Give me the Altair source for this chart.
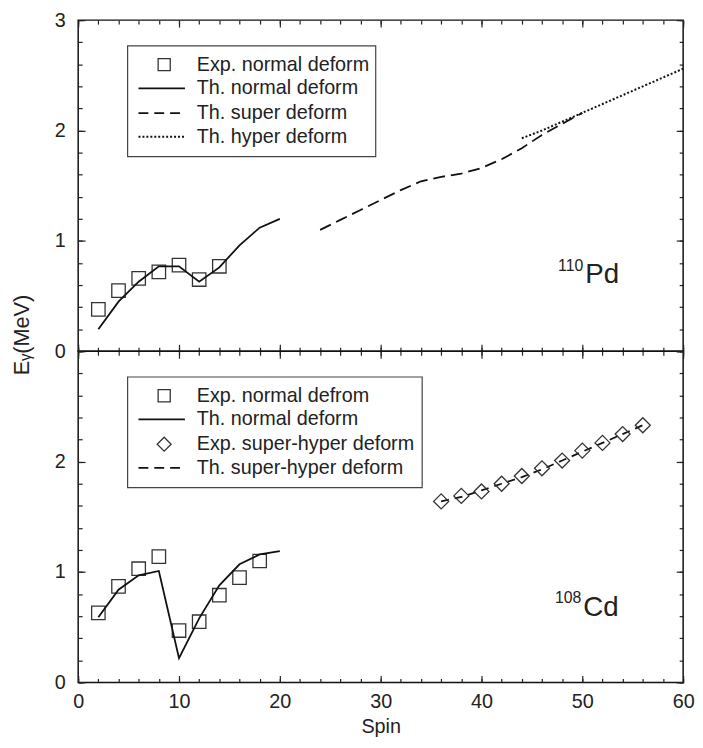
import altair as alt
import pandas as pd

# ---------------- data ----------------
# 110Pd panel
spin_pd_exp = [2, 4, 6, 8, 10, 12, 14]
e_pd_exp = [0.38, 0.55, 0.66, 0.72, 0.78, 0.65, 0.77]
spin_pd_thn = [2, 4, 6, 8, 10, 12, 14, 16, 18, 20]
e_pd_thn = [0.20, 0.45, 0.63, 0.77, 0.77, 0.63, 0.76, 0.96, 1.12, 1.20]
spin_pd_ths = [24, 26, 28, 30, 32, 34, 36, 38, 40, 42, 44, 46, 48, 50]
e_pd_ths = [1.10, 1.19, 1.28, 1.37, 1.46, 1.54, 1.58, 1.61, 1.66, 1.74, 1.84, 1.96, 2.06, 2.16]
spin_pd_thh = [44, 46, 48, 50, 52, 54, 56, 58, 60]
e_pd_thh = [1.93, 2.00, 2.08, 2.16, 2.24, 2.32, 2.40, 2.48, 2.56]

# 108Cd panel
spin_cd_exp = [2, 4, 6, 8, 10, 12, 14, 16, 18]
e_cd_exp = [0.63, 0.87, 1.03, 1.14, 0.47, 0.55, 0.79, 0.95, 1.10]
spin_cd_thn = [2, 4, 6, 8, 10, 12, 14, 16, 18, 20]
e_cd_thn = [0.59, 0.84, 0.97, 1.01, 0.22, 0.58, 0.88, 1.07, 1.16, 1.19]
spin_cd_sh = [36, 38, 40, 42, 44, 46, 48, 50, 52, 54, 56]
e_cd_exp_sh = [1.64, 1.69, 1.73, 1.80, 1.87, 1.94, 2.01, 2.10, 2.17, 2.25, 2.33]
e_cd_th_sh = [1.64, 1.68, 1.74, 1.80, 1.86, 1.93, 2.01, 2.09, 2.17, 2.25, 2.33]

legend_pd = ["Exp. normal deform", "Th. normal deform", "Th. super deform", "Th. hyper deform"]
legend_cd = ["Exp. normal defrom", "Th. normal deform", "Exp. super-hyper deform", "Th. super-hyper deform"]

x_major = [0, 10, 20, 30, 40, 50, 60]
x_minor = [0, 2, 4, 6, 8, 10, 12, 14, 16, 18, 20, 22, 24, 26, 28, 30, 32, 34, 36, 38, 40,
           42, 44, 46, 48, 50, 52, 54, 56, 58, 60]
y_major_top = [0, 1, 2, 3]
y_major_bot = [0, 1, 2]
y_minor = [0, 0.2, 0.4, 0.6, 0.8, 1.0, 1.2, 1.4, 1.6, 1.8, 2.0, 2.2, 2.4, 2.6, 2.8, 3.0]

# ---------------- style ----------------
FONT = "Liberation Sans"
INK = "#222222"
W, H = 612, 335
XS = alt.Scale(domain=[0, 60], nice=False, zero=False)
YS = alt.Scale(domain=[0, 3], nice=False, zero=False)
MAJ, MIN = 7, 4


def axis(orient, values, size, labels=False, **kw):
    return alt.Axis(orient=orient, values=values, tickSize=size, offset=-size,
                    labels=labels, labelFlush=False, domain=False, grid=False, ticks=True,
                    tickColor=INK, tickWidth=1.2, labelFont=FONT, labelFontSize=20,
                    labelColor=INK, **kw)


def axes_for(panel):
    """4 (x-axis, y-axis) pairs: minor/major on bottom-left, minor/major on top-right."""
    bottom = panel == "bottom"
    xa = [
        axis("bottom", x_minor, MIN, title=None),
        axis("bottom", x_major, MAJ, labels=bottom, labelPadding=9,
             **({"title": "Spin", "titleFont": FONT, "titleFontSize": 20,
                 "titleFontWeight": "normal", "titleColor": INK, "titlePadding": 6}
                if bottom else {"title": None})),
        axis("top", x_minor, MIN, title=None),
        axis("top", x_major, MAJ, title=None),
    ]
    ya = [
        axis("left", y_minor, MIN, title=None),
        axis("left", y_major_bot if bottom else y_major_top, MAJ, labels=True, labelPadding=13,
             **({"title": None} if bottom else
                {"title": "E\u1d67(MeV)", "titleFont": FONT, "titleFontSize": 22,
                 "titleFontWeight": "normal", "titleColor": INK, "titlePadding": 21,
                 "titleY": 318})),
        axis("right", y_minor, MIN, title=None),
        axis("right", y_major_top, MAJ, title=None),
    ]
    return list(zip(xa, ya))


def pts(spin, e, shape, size, ax):
    df = pd.DataFrame({"spin": spin, "e": e})
    return alt.Chart(df).mark_point(shape=shape, size=size, filled=False, color="#333333",
                                    strokeWidth=1.3, opacity=1).encode(
        x=alt.X("spin:Q", scale=XS, axis=ax[0]),
        y=alt.Y("e:Q", scale=YS, axis=ax[1]))


def line(spin, e, ax, dash=None, width=1.8):
    df = pd.DataFrame({"spin": spin, "e": e})
    kw = {"strokeDash": dash} if dash else {}
    return alt.Chart(df).mark_line(color="#111111", strokeWidth=width, **kw).encode(
        x=alt.X("spin:Q", scale=XS, axis=ax[0]),
        y=alt.Y("e:Q", scale=YS, axis=ax[1]))


ONE = pd.DataFrame({"k": [0]})


def txt(x, y, t, size=20, align="left", baseline="middle"):
    return alt.Chart(ONE).mark_text(align=align, baseline=baseline, font=FONT,
                                    fontSize=size, color=INK).encode(
        x=alt.value(x), y=alt.value(y), text=alt.value(t))


def frame(x1, x2, y1, y2):
    return alt.Chart(ONE).mark_rect(fillOpacity=0, stroke="#444444", strokeWidth=1.2).encode(
        x=alt.value(x1), x2=alt.value(x2), y=alt.value(y1), y2=alt.value(y2))


def lg_line(y, dash=None, width=1.8, x1=61, x2=108):
    kw = {"strokeDash": dash} if dash else {}
    return alt.Chart(ONE).mark_rule(color="#111111", strokeWidth=width, **kw).encode(
        x=alt.value(x1), x2=alt.value(x2), y=alt.value(y))


def lg_pt(y, shape, size):
    return alt.Chart(ONE).mark_point(shape=shape, size=size, filled=False, color="#333333",
                                     strokeWidth=1.3, opacity=1).encode(
        x=alt.value(87), y=alt.value(y))


ROWS = [45, 69, 94, 118]
TX = 120

# ---------------- top panel: 110Pd ----------------
ax_t = axes_for("top")
top = alt.layer(
    pts(spin_pd_exp, e_pd_exp, "square", 185, ax_t[0]),
    line(spin_pd_thn, e_pd_thn, ax_t[1]),
    line(spin_pd_ths, e_pd_ths, ax_t[2], dash=[12, 6]),
    line(spin_pd_thh, e_pd_thh, ax_t[3], dash=[2, 2], width=2),
    frame(50, 301, 26, 138),
    lg_pt(ROWS[0], "square", 150),
    lg_line(ROWS[1]),
    lg_line(ROWS[2], dash=[10, 6]),
    lg_line(ROWS[3], dash=[2, 2], width=2),
    txt(TX, ROWS[0], legend_pd[0]),
    txt(TX, ROWS[1], legend_pd[1]),
    txt(TX, ROWS[2], legend_pd[2]),
    txt(TX, ROWS[3], legend_pd[3]),
    txt(511, 254, "110", size=16, align="right", baseline="alphabetic"),
    txt(513, 266, "Pd", size=28, baseline="alphabetic"),
).resolve_axis(x="independent", y="independent").properties(width=W, height=H)

# ---------------- bottom panel: 108Cd ----------------
ax_b = axes_for("bottom")
bottom = alt.layer(
    pts(spin_cd_exp, e_cd_exp, "square", 185, ax_b[0]),
    line(spin_cd_thn, e_cd_thn, ax_b[1]),
    line(spin_cd_sh, e_cd_th_sh, ax_b[2], dash=[8, 6]),
    pts(spin_cd_sh, e_cd_exp_sh, "diamond", 230, ax_b[3]),
    frame(50, 348, 26, 138),
    lg_pt(ROWS[0], "square", 150),
    lg_line(ROWS[1]),
    lg_pt(ROWS[2], "diamond", 200),
    lg_line(ROWS[3], dash=[10, 6], x2=103),
    txt(TX, ROWS[0], legend_cd[0]),
    txt(TX, ROWS[1], legend_cd[1]),
    txt(TX, ROWS[2], legend_cd[2]),
    txt(TX, ROWS[3], legend_cd[3]),
    txt(509, 255, "108", size=16, align="right", baseline="alphabetic"),
    txt(511, 268, "Cd", size=28, baseline="alphabetic"),
).resolve_axis(x="independent", y="independent").properties(width=W, height=H)

chart = alt.vconcat(top, bottom, spacing=0).properties(
    bounds="flush",
    padding={"left": 2, "top": -3, "right": 0, "bottom": 0},
    background="white",
).configure_view(stroke="#111111", strokeWidth=1.5)

chart.save("out.html", embed_options={"renderer": "svg", "actions": False})
